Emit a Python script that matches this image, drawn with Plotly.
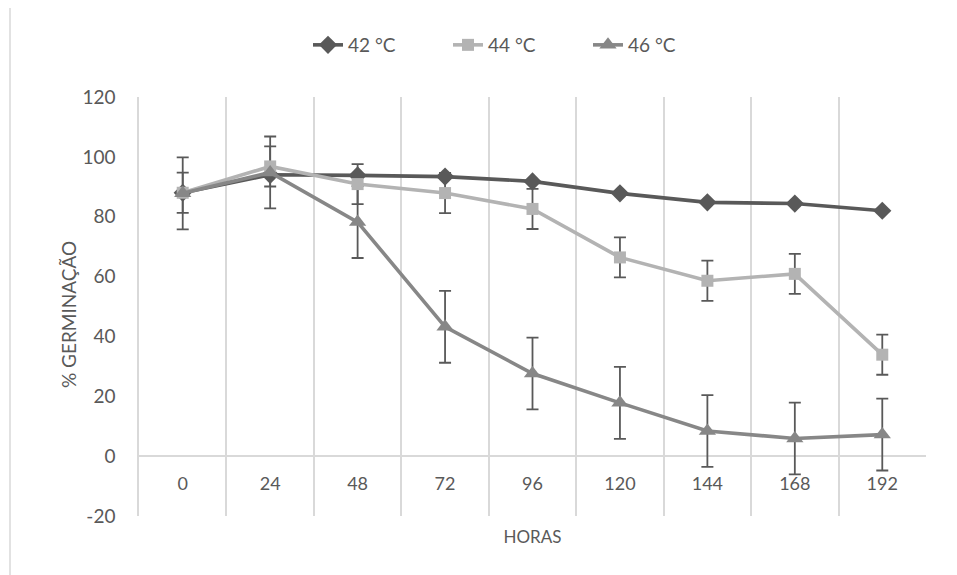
import plotly.graph_objects as go

horas = ["0", "24", "48", "72", "96", "120", "144", "168", "192"]
g42 = [88.0, 94.0, 93.8, 93.4, 91.8, 87.8, 84.8, 84.4, 82.0]
g44 = [88.0, 96.8, 90.9, 87.9, 82.6, 66.4, 58.6, 60.9, 33.9]
g46 = [87.8, 94.8, 78.2, 43.2, 27.6, 17.8, 8.4, 5.9, 7.2]
err44 = [6.7, 6.7, 6.7, 6.7, 6.7, 6.7, 6.7, 6.7, 6.7]
err46 = [12.0, 12.0, 12.0, 12.0, 12.0, 12.0, 12.0, 12.0, 12.0]
series_names = ["42 °C", "44 °C", "46 °C"]
y_ticks = [-20, 0, 20, 40, 60, 80, 100, 120]
y_labels = ["-20", "0", "20", "40", "60", "80", "100", "120"]
x_title = "HORAS"
y_title = "% GERMINAÇÃO"

FONT = "Lato"
TXT = "#595959"
GRID = "#d9d9d9"
c42, c44, c46 = "#595959", "#b3b3b3", "#878787"

fig = go.Figure()

# error bars drawn beneath all series
for vals, errs in ((g44, err44), (g46, err46)):
    fig.add_trace(go.Scatter(
        x=horas, y=vals, mode="markers",
        marker=dict(size=1, color="rgba(0,0,0,0)"),
        error_y=dict(type="data", array=errs, visible=True, color="#595959",
                     thickness=1.8, width=6),
        showlegend=False, hoverinfo="skip"))

fig.add_trace(go.Scatter(x=horas, y=g42, name=series_names[0], mode="lines+markers",
                         line=dict(color=c42, width=3.6),
                         marker=dict(symbol="diamond", size=14, color=c42)))
fig.add_trace(go.Scatter(x=horas, y=g44, name=series_names[1], mode="lines+markers",
                         line=dict(color=c44, width=3.6),
                         marker=dict(symbol="square", size=12, color=c44)))
fig.add_trace(go.Scatter(x=horas, y=g46, name=series_names[2], mode="lines+markers",
                         line=dict(color=c46, width=3.6),
                         marker=dict(symbol="triangle-up", size=15, color=c46)))

OFF = 8  # page body margin
W, H = 957 - OFF, 575 - OFF
L, T = 139 - OFF, 97 - OFF
R = W - (926 - OFF)
B = H - (516 - OFF)
pw, ph = W - L - R, H - T - B


def px_x(p):  # screen pixel -> paper x
    return (p - OFF - L) / pw


def px_y(p):  # screen pixel -> paper y
    return (H - B - (p - OFF)) / ph


fig.update_layout(
    width=W, height=H,
    margin=dict(l=L, r=R, t=T, b=B, autoexpand=False),
    paper_bgcolor="white", plot_bgcolor="white",
    font=dict(family=FONT, size=18, color=TXT),
    showlegend=True,
    legend=dict(orientation="h", x=px_x(518), xanchor="center",
                y=px_y(45), yanchor="middle", font=dict(size=19, color=TXT),
                entrywidth=95, entrywidthmode="pixels",
                bgcolor="rgba(0,0,0,0)"),
    xaxis=dict(
        type="category", categoryorder="array", categoryarray=horas,
        range=[-0.5, len(horas) - 0.5],
        tickson="boundaries", showgrid=True, gridcolor=GRID, gridwidth=1.5,
        showline=False, zeroline=False,
        anchor="free", position=px_y(471),
        ticks="", tickfont=dict(size=18, color=TXT),
        title=dict(text=x_title, font=dict(size=17, color=TXT), standoff=38),
    ),
    yaxis=dict(
        range=[-20, 120], tickvals=y_ticks, ticktext=y_labels,
        showgrid=False, zeroline=True, zerolinecolor=GRID, zerolinewidth=1.5,
        showline=True, linecolor=GRID, linewidth=1.5,
        ticks="outside", ticklen=18, tickcolor="rgba(0,0,0,0)",
        tickfont=dict(size=19, color=TXT),
    ),
    annotations=[dict(text=y_title, textangle=-90, showarrow=False,
                      xref="paper", yref="paper", x=px_x(68), y=px_y(315),
                      xanchor="center", yanchor="middle",
                      font=dict(size=19, color=TXT))],
    shapes=[
        dict(type="line", xref="paper", yref="paper",
             x0=px_x(10), x1=px_x(1000), y0=px_y(7), y1=px_y(7),
             line=dict(color=GRID, width=1.5), layer="below"),
        dict(type="line", xref="paper", yref="paper",
             x0=px_x(10), x1=px_x(10), y0=px_y(7), y1=px_y(620),
             line=dict(color=GRID, width=1.5), layer="below"),
    ],
)

fig.write_html("out.html")
